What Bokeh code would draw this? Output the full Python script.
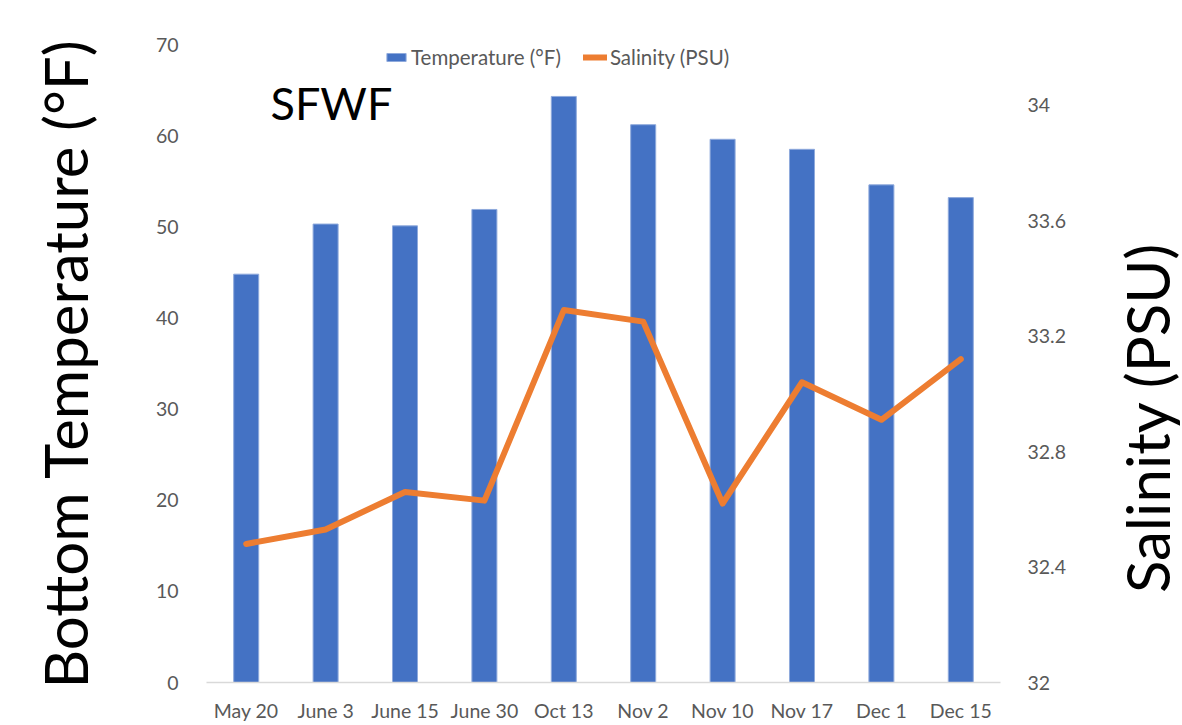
from math import pi
from bokeh.plotting import figure
from bokeh.layouts import row
from bokeh.models import (Range1d, LinearAxis, FixedTicker, Label, Legend, LegendItem,
                          CustomJSTickFormatter, FactorRange)
from bokeh.embed import file_html
from bokeh.resources import INLINE

dates = ["May 20", "June 3", "June 15", "June 30", "Oct 13",
         "Nov 2", "Nov 10", "Nov 17", "Dec 1", "Dec 15"]
temperature = [44.8, 50.3, 50.1, 51.9, 64.3, 61.2, 59.6, 58.5, 54.6, 53.2]
salinity = [32.48, 32.53, 32.66, 32.63, 33.29, 33.25, 32.62, 33.04, 32.91, 33.12]
temp_ticks = [0, 10, 20, 30, 40, 50, 60, 70]
sal_ticks = [32, 32.4, 32.8, 33.2, 33.6, 34]

FONT = "Lato"
GREY = "#595959"

p = figure(x_range=FactorRange(factors=dates), y_range=Range1d(0, 70),
           width=1110, height=725, output_backend="svg", toolbar_location=None,
           min_border_left=206, min_border_right=110, min_border_top=44,
           min_border_bottom=43)
p.extra_y_ranges = {"sal": Range1d(32, 34.21)}
p.xgrid.visible = False
p.ygrid.visible = False
p.outline_line_color = None
p.background_fill_color = "white"
p.border_fill_color = "white"

bars = p.vbar(x=dates, top=temperature, width=0.315, fill_color="#4472C4",
              line_color="#8FAADC", line_width=1)
line = p.line(x=dates, y=salinity, y_range_name="sal", line_color="#ED7D31",
              line_width=6, line_join="round", line_cap="round")

# left axis
ya = p.yaxis[0]
ya.ticker = FixedTicker(ticks=temp_ticks)
ya.axis_line_color = None
ya.major_tick_line_color = None
ya.minor_tick_line_color = None
ya.major_label_standoff = 22
ya.major_label_text_font = FONT
ya.major_label_text_font_size = "19.5px"
ya.major_label_text_color = GREY
ya.axis_label = "Bottom Temperature (°F)"
ya.axis_label_text_font = FONT
ya.axis_label_text_font_size = "60px"
ya.axis_label_text_font_style = "normal"
ya.axis_label_text_color = "black"
ya.axis_label_standoff = 52

# bottom axis
xa = p.xaxis[0]
xa.axis_line_color = "#D9D9D9"
xa.axis_line_width = 1.5
xa.major_tick_line_color = None
xa.minor_tick_line_color = None
xa.major_label_standoff = 10
xa.major_label_text_font = FONT
xa.major_label_text_font_size = "19.5px"
xa.major_label_text_color = GREY

# right axis
ra = LinearAxis(y_range_name="sal", ticker=FixedTicker(ticks=sal_ticks),
                formatter=CustomJSTickFormatter(code="return (Math.round(tick*10)/10).toString();"))
ra.axis_line_color = None
ra.major_tick_line_color = None
ra.minor_tick_line_color = None
ra.major_label_standoff = 21
ra.major_label_text_font = FONT
ra.major_label_text_font_size = "19.5px"
ra.major_label_text_color = GREY
p.add_layout(ra, "right")

# station label
p.add_layout(Label(x=0.806, y=63.6, text="SFWF", text_font=FONT,
                   text_font_size="45px", text_color="black",
                   text_baseline="alphabetic"))

legend = Legend(items=[LegendItem(label="Temperature (°F)", renderers=[bars]),
                       LegendItem(label="Salinity (PSU)", renderers=[line])],
                orientation="horizontal", location=(178, 613),
                border_line_color=None, background_fill_alpha=0,
                padding=0, margin=0, spacing=22, label_standoff=3,
                glyph_width=24, glyph_height=10, label_height=22,
                label_text_font=FONT, label_text_font_size="20.5px",
                label_text_color=GREY)
p.add_layout(legend)

# narrow strip on the right holding the salinity axis title
t = figure(width=72, height=725, x_range=Range1d(0, 72), y_range=Range1d(0, 725),
           output_backend="svg", toolbar_location=None, min_border=0,
           x_axis_location=None, y_axis_location=None)
t.xgrid.visible = False
t.ygrid.visible = False
t.outline_line_color = None
t.background_fill_color = "white"
t.border_fill_color = "white"
t.add_layout(Label(x=36, y=301, text="Salinity (PSU)", angle=pi / 2,
                   text_font=FONT, text_font_size="60px", text_color="black",
                   text_align="center", text_baseline="middle"))

layout = row(p, t, spacing=0)
open("out.html", "w").write(file_html(layout, INLINE))
